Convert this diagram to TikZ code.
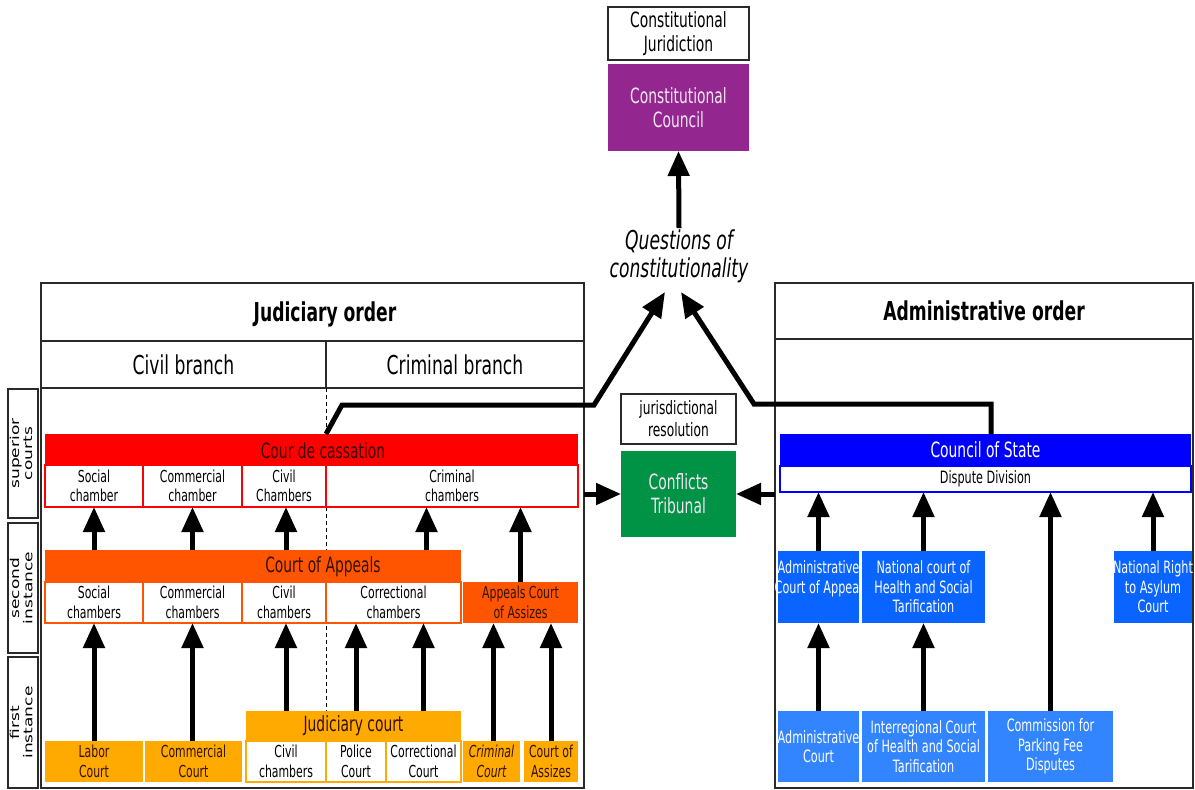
\documentclass[tikz,border=0pt]{standalone}
\usepackage{fontspec}
\setmainfont{DejaVu Sans}[FakeStretch=0.66]
\newfontfamily\sidefont{DejaVu Sans}
\usetikzlibrary{arrows.meta}
\definecolor{cpurple}{HTML}{93278F}
\definecolor{cred}{HTML}{FF0000}
\definecolor{corange}{HTML}{FF5500}
\definecolor{cyellow}{HTML}{FFAA00}
\definecolor{cgreen}{HTML}{009245}
\definecolor{cblue}{HTML}{0000FF}
\definecolor{cblueb}{HTML}{0A64FF}
\definecolor{cbluec}{HTML}{3384FF}
\definecolor{cframe}{HTML}{2A2A2A}
\definecolor{darkred}{HTML}{3A0000}
\definecolor{darkor}{HTML}{331100}
\definecolor{lighttxt}{HTML}{F2E6F2}
\newcommand\Fsm{\fontsize{16.5}{19.5}\selectfont}
\newcommand\Fad{\fontsize{17}{19.5}\selectfont}
\newcommand\Fmd{\fontsize{21}{24}\selectfont}
\newcommand\Fbg{\fontsize{26}{28}\selectfont}
\newcommand\Fside{\sidefont\fontsize{17}{18}\selectfont}
\newcommand\bx[7]{\node[#6, minimum width={#4-#2}, minimum height={#5-#3}] (#1) at ({(#2+#4)/2},{(#3+#5)/2}) {#7};}
\newcommand\sidetxt[2]{\scalebox{1}[0.72]{\begin{tabular}{@{}c@{}}#1\\#2\end{tabular}}}
\tikzset{
  base/.style={rectangle, inner sep=0pt, outer sep=0pt, align=center, font=\Fsm},
  frame/.style={base, draw=cframe, line width=2pt},
  thinframe/.style={base, draw=cframe, line width=1.2pt, fill=white},
  redbar/.style={base, fill=cred, font=\Fmd, text=darkred},
  redcell/.style={base, fill=white, draw=cred, line width=1.2pt},
  orbar/.style={base, fill=corange, font=\Fmd, text=darkor},
  orcell/.style={base, fill=white, draw=corange, line width=1.2pt},
  yebar/.style={base, fill=cyellow, font=\Fmd, text=darkor},
  yecell/.style={base, fill=white, draw=cyellow, line width=1.2pt},
  yebox/.style={base, fill=cyellow, text=darkor},
  bluebar/.style={base, fill=cblue, font=\Fmd, text=white},
  bluecell/.style={base, fill=white, draw=cblue, line width=1.2pt},
  blueb/.style={base, fill=cblueb, text=white, font=\Fad},
  bluec/.style={base, fill=cbluec, text=white, font=\Fad},
  arr/.style={line width=5pt, -{Triangle[length=25pt,width=21pt]}},
}
\begin{document}
\begin{tikzpicture}[x=1pt, y=-1pt]
\useasboundingbox (0,0) rectangle (1195,790);
% constitutional
\bx{cj}{608}{7}{749}{60}{thinframe, font=\Fmd}{Constitutional\\Juridiction}
\bx{ccl}{608}{64}{749}{151}{base, fill=cpurple, font=\Fmd, text=lighttxt}{Constitutional\\Council}
\node[font=\Fbg\itshape, align=center, inner sep=1pt] (q) at (679,256) {Questions of\\constitutionality};
\draw[arr] (q.north) -- (ccl.south);
% judiciary frame
\bx{jtitle}{41}{283}{584}{341}{frame}{}
\node[font=\Fbg\bfseries] (jtt) at (325,314) {Judiciary order};
\bx{jciv}{41}{341}{326}{388}{frame, font=\Fbg}{Civil branch}
\bx{jcrim}{326}{341}{584}{388}{frame, font=\Fbg}{Criminal branch}
\bx{jbody}{41}{388}{584}{788}{frame}{}
% side labels
\bx{s1}{8}{389}{38}{518}{frame}{}
\bx{s2}{8}{523}{38}{653}{frame}{}
\bx{s3}{8}{657}{38}{788}{frame}{}
\node[rotate=90, font=\Fside, inner sep=0pt] (s1t) at (s1) {\sidetxt{superior}{courts}};
\node[rotate=90, font=\Fside, inner sep=0pt] (s2t) at (s2) {\sidetxt{second}{instance}};
\node[rotate=90, font=\Fside, inner sep=0pt] (s3t) at (s3) {\sidetxt{first}{instance}};
% dashed divider
\coordinate (dtop) at (326,388);
\coordinate (dbot) at (326,711);
\draw[line width=1pt, dash pattern=on 3.5pt off 3.5pt] (dtop) -- (dbot);
% administrative frame
\bx{atitle}{775}{283}{1193}{339}{frame, font=\Fbg\bfseries}{Administrative order}
\bx{abody}{775}{339}{1193}{788}{frame}{}
% Cour de cassation
\bx{cass}{45}{434}{578}{465}{redbar}{}
\node[font=\Fmd, text=darkred] (casst) at (323,451) {Cour de cassation};
\bx{cc1}{45}{465}{143}{507}{redcell}{Social\\chamber}
\bx{cc2}{143}{465}{242}{507}{redcell}{Commercial\\chamber}
\bx{cc3}{242}{465}{326}{507}{redcell}{Civil\\Chambers}
\bx{cc4}{326}{465}{578}{507}{redcell}{Criminal\\chambers}
% Court of Appeals
\bx{ca}{45}{550}{461}{582}{orbar}{}
\node[font=\Fmd, text=darkor] (cat) at (323,567) {Court of Appeals};
\bx{ca1}{45}{582}{143}{623}{orcell}{Social\\chambers}
\bx{ca2}{143}{582}{242}{623}{orcell}{Commercial\\chambers}
\bx{ca3}{242}{582}{326}{623}{orcell}{Civil\\chambers}
\bx{ca4}{326}{582}{461}{623}{orcell}{Correctional\\chambers}
\bx{aca}{463}{582}{578}{623}{base, fill=corange, text=darkor}{Appeals Court\\of Assizes}
% first instance
\bx{jc}{246}{711}{461}{741}{yebar}{Judiciary court}
\bx{jc1}{246}{741}{326}{782}{yecell}{Civil\\chambers}
\bx{jc2}{326}{741}{386}{782}{yecell}{Police\\Court}
\bx{jc3}{386}{741}{461}{782}{yecell}{Correctional\\Court}
\bx{labor}{45}{741}{143}{782}{yebox}{Labor\\Court}
\bx{comm}{145}{741}{242}{782}{yebox}{Commercial\\Court}
\bx{crim}{463}{741}{520}{782}{yebox, font=\Fsm\itshape}{Criminal\\Court}
\bx{assz}{524}{741}{578}{782}{yebox}{Court of\\Assizes}
% arrows judiciary: first -> second
\draw[arr] (labor.north) -- (labor.north |- ca1.south);
\draw[arr] ([xshift=-1]comm.north) -- ([xshift=-1]comm.north |- ca2.south);
\draw[arr] (jc1.north |- jc.north) -- (jc1.north |- ca3.south);
\draw[arr] (jc2.north |- jc.north) -- (jc2.north |- ca4.south);
\draw[arr] (jc3.north |- jc.north) -- (jc3.north |- ca4.south);
\draw[arr] ([xshift=2]crim.north) -- ([xshift=2]crim.north |- aca.south);
\draw[arr] (assz.north) -- (assz.north |- aca.south);
% arrows judiciary: second -> superior
\draw[arr] (ca1.north |- ca.north) -- (ca1.north |- cc1.south);
\draw[arr] (ca2.north |- ca.north) -- (ca2.north |- cc2.south);
\draw[arr] ([xshift=2]ca3.north |- ca.north) -- ([xshift=2]ca3.north |- cc3.south);
\draw[arr] ([xshift=3]jc3.north |- ca.north) -- ([xshift=3]jc3.north |- cc4.south);
\draw[arr] (aca.north) -- (aca.north |- cc4.south);
% conflicts tribunal
\bx{jr}{621}{394}{736}{444}{thinframe, font=\fontsize{18.5}{22}\selectfont}{jurisdictional\\resolution}
\bx{ct}{621}{451}{736}{537}{base, fill=cgreen, font=\Fmd, text=lighttxt}{Conflicts\\Tribunal}
\draw[arr] (jbody.east |- ct.west) -- (ct.west);
\draw[arr] (abody.west |- ct.east) -- (ct.east);
% administrative
\bx{cs}{780}{434}{1191}{466}{bluebar}{Council of State}
\bx{dd}{780}{466}{1191}{492}{bluecell, font=\Fad}{Dispute Division}
\bx{aca2}{778}{551}{859}{623}{blueb}{\makebox[0pt]{Administrative}\\\makebox[0pt]{Court of Appeal}\\\mbox{}}
\bx{nch}{862}{551}{985}{623}{blueb}{National court of\\Health and Social\\Tarification}
\bx{nra}{1114}{551}{1192}{623}{blueb}{\makebox[0pt]{National Right}\\to Asylum\\Court}
\bx{ac}{778}{711}{859}{782}{bluec}{\makebox[0pt]{Administrative}\\Court}
\bx{ic}{862}{711}{985}{782}{bluec}{\makebox[0pt]{Interregional Court}\\\makebox[0pt]{of Health and Social}\\Tarification}
\bx{cp}{988}{711}{1113}{782}{bluec}{Commission for\\Parking Fee\\Disputes}
\draw[arr] (aca2.north) -- (aca2.north |- dd.south);
\draw[arr] (nch.north) -- (nch.north |- dd.south);
\draw[arr] (cp.north) -- (cp.north |- dd.south);
\draw[arr] (nra.north) -- (nra.north |- dd.south);
\draw[arr] (ac.north) -- (ac.north |- aca2.south);
\draw[arr] (ic.north) -- (ic.north |- nch.south);
% questions of constitutionality connectors
\coordinate (l1) at (342,405);
\coordinate (l2) at (594,405);
\coordinate (qa) at (665,292);
\coordinate (r1) at (991,404);
\coordinate (r2) at (754,404);
\coordinate (qb) at (681,292);
\draw[arr, line join=miter] (cass.north -| cc3.east) -- (l1) -- (l2) -- (qa);
\draw[arr, line join=miter] (cs.north -| r1) -- (r1) -- (r2) -- (qb);
\end{tikzpicture}
\end{document}
